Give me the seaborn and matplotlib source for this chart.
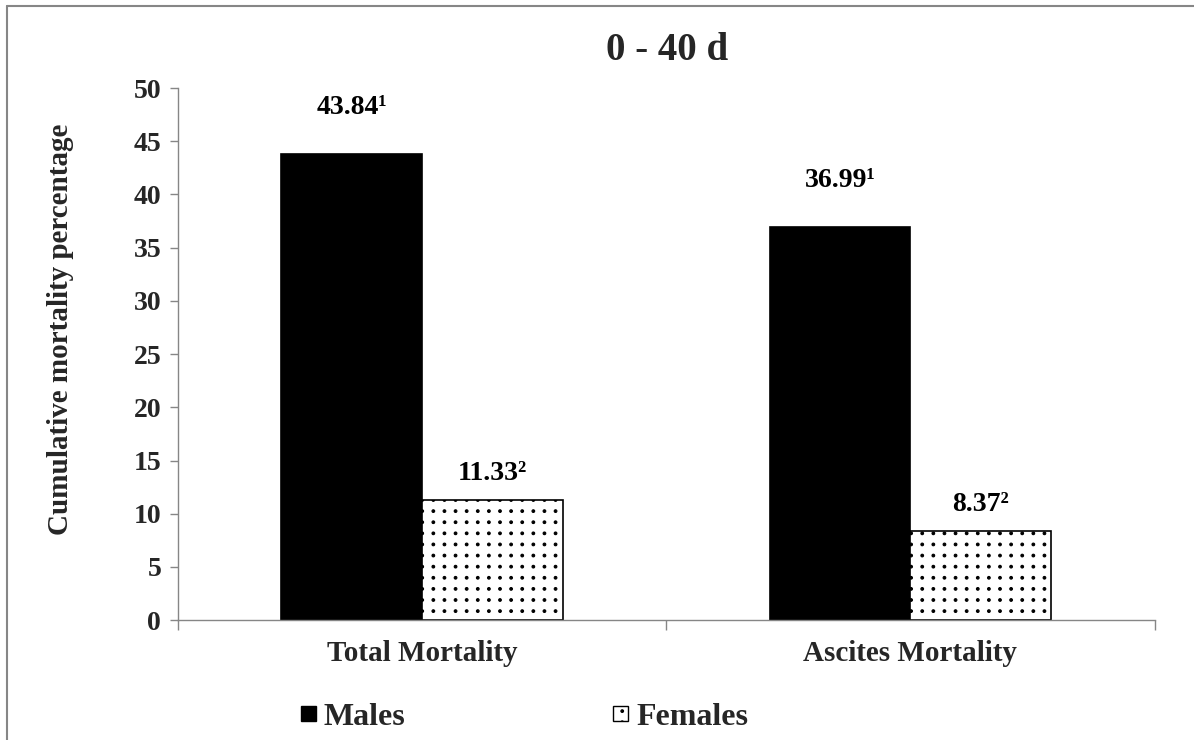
import matplotlib
matplotlib.use("Agg")
import numpy as np
import matplotlib.pyplot as plt
import matplotlib.hatch as mhatch
from matplotlib.path import Path
import seaborn as sns
import pandas as pd
from matplotlib.patches import Patch
from matplotlib.lines import Line2D

categories = ["Total Mortality", "Ascites Mortality"]
groups = ["Males", "Females"]
males = [43.84, 36.99]
females = [11.33, 8.37]
label_males = ["43.84\u00b9", "36.99\u00b9"]
label_females = ["11.33\u00b2", "8.37\u00b2"]
yticks = [0, 5, 10, 15, 20, 25, 30, 35, 40, 45, 50]


# square-grid dotted hatch for '.' (like the reference's dotted fill)
class SquareDots(mhatch.HatchPatternBase):
    def __init__(self, hatch, density):
        self.n = hatch.count('.') * 9
        circ = Path.unit_circle()
        self.sv = circ.vertices
        self.sc = circ.codes
        self.num_vertices = (self.n + 1) ** 2 * len(self.sv) if self.n else 0

    def set_vertices_and_codes(self, vertices, codes):
        off = 1.0 / self.n
        sv = self.sv * off * 0.12
        parts, cparts = [], []
        for r in range(self.n + 1):
            for c in range(self.n + 1):
                parts.append(sv + [c * off, r * off])
                cparts.append(self.sc)
        vertices[:] = np.concatenate(parts)
        codes[:] = np.concatenate(cparts)


mhatch._hatch_types = [SquareDots if t is mhatch.SmallFilledCircles else t
                       for t in mhatch._hatch_types]

sns.set_theme(style="white")
plt.rcParams['font.family'] = ['Liberation Serif', 'DejaVu Serif']
plt.rcParams['font.weight'] = 'bold'
plt.rcParams['hatch.linewidth'] = 0.8

df = pd.DataFrame({
    "category": categories * 2,
    "sex": [groups[0]] * 2 + [groups[1]] * 2,
    "value": males + females,
})

fig = plt.figure(figsize=(11.94, 7.40), dpi=100)
ax = fig.add_axes([0.149, 0.162, 0.818, 0.719])

sns.barplot(data=df, x="category", y="value", hue="sex", order=categories,
            hue_order=groups, palette={"Males": "black", "Females": "white"},
            width=0.577, edgecolor="black", linewidth=1.2, ax=ax, legend=False,
            errorbar=None, saturation=1)

for cont, labs, pad in zip(ax.containers, [label_males, label_females], [24, 10]):
    for bar in cont:
        if bar.get_facecolor()[0] > 0.5:
            bar.set_hatch(".")
            bar.set_edgecolor("black")
    ax.bar_label(cont, labels=labs, padding=pad, fontsize=20, fontweight="bold",
                 color="black")

ax.set_xlim(-0.5, 1.5)
ax.set_ylim(0, 50)
ax.set_yticks(yticks)
ax.set_yticklabels([str(t) for t in yticks], fontsize=20, fontweight="bold")
ax.set_xticks([0, 1])
ax.set_xticklabels(categories, fontsize=21, fontweight="bold")
ax.tick_params(axis="x", length=0, pad=14)
ax.tick_params(axis="y", length=6, width=1, color="#868686", left=True, pad=6)
ax.set_xticks([-0.5, 0.5, 1.5], minor=True)
ax.tick_params(axis="x", which="minor", length=7, width=1, color="#868686", bottom=True)

ax.set_xlabel("")
ax.set_ylabel("Cumulative mortality percentage", fontsize=21, fontweight="bold")
ax.yaxis.set_label_coords(-0.106, 0.547)
for s in ["top", "right"]:
    ax.spines[s].set_visible(False)
for s in ["left", "bottom"]:
    ax.spines[s].set_color("#868686")
    ax.spines[s].set_linewidth(1)

fig.text(0.5586, 0.932, "0 - 40 d", ha="center", va="center", fontsize=28,
         fontweight="bold")

handles = [Patch(facecolor="black", edgecolor="black"),
           Patch(facecolor="white", edgecolor="black", hatch=".")]
fig.legend(handles, groups, loc="center left", bbox_to_anchor=(0.228, 0.03),
           ncol=2, frameon=False, prop={"size": 23, "weight": "bold"},
           handlelength=0.47, handleheight=0.35, handletextpad=0.25,
           columnspacing=6.5)

fig.add_artist(Line2D([0.006, 1.0], [1 - 6 / 740, 1 - 6 / 740], transform=fig.transFigure,
                      color="#868686", linewidth=1.5))
fig.add_artist(Line2D([0.006, 0.006], [0.0, 1 - 6 / 740], transform=fig.transFigure,
                      color="#868686", linewidth=1.5))

fig.savefig("out.png", dpi=100, facecolor="white")
